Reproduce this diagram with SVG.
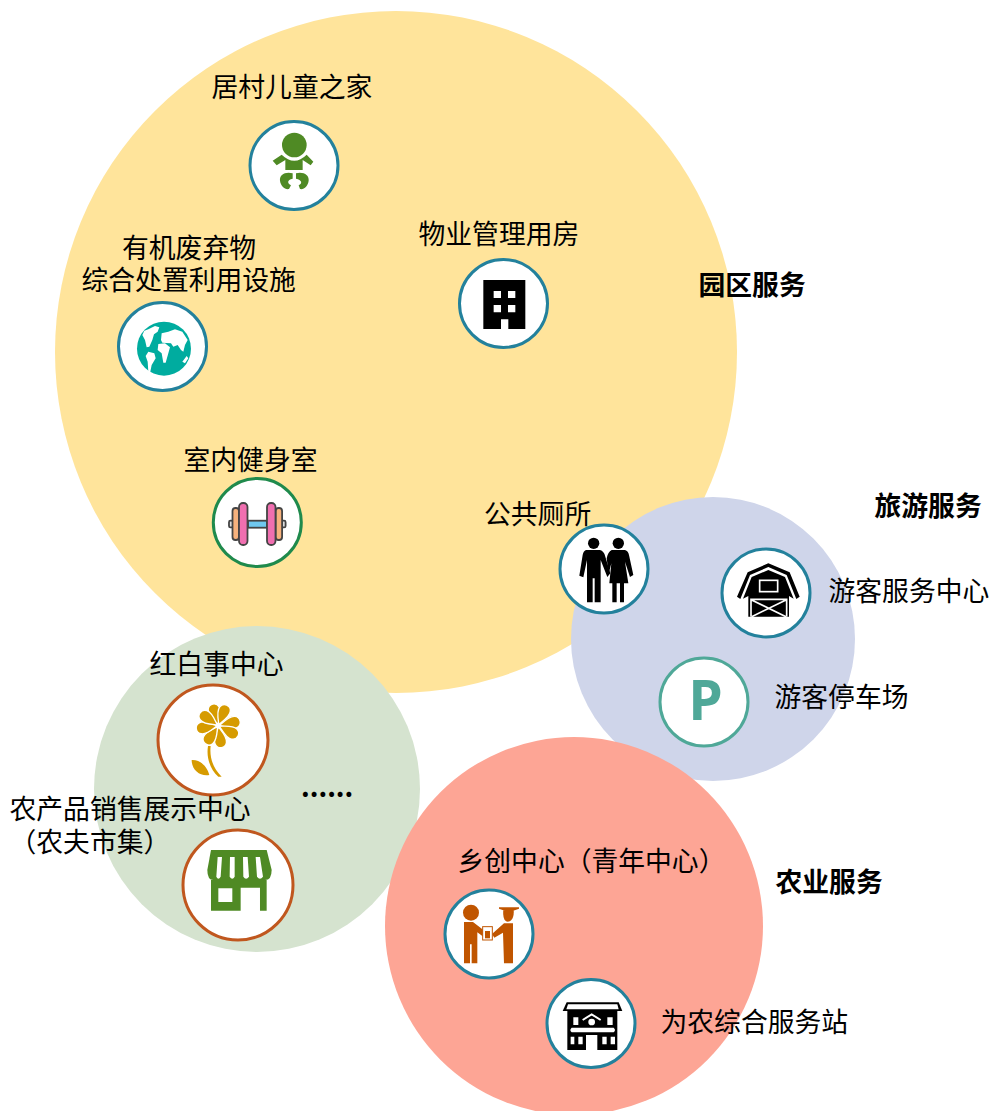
<svg xmlns="http://www.w3.org/2000/svg" width="992" height="1111" viewBox="0 0 992 1111">
<style>
text{font-family:"Noto Sans CJK SC","Noto Sans",sans-serif;font-size:26.8px;fill:#000}
.b{font-weight:700}
.r{fill:#fff;stroke-width:3}
.t{stroke:#23819c}
.o{stroke:#c0571e}
</style>
<defs>
<path id="petal" d="M0,-4C-9,-20-22,-38-17,-54C-12,-71 12,-71 17,-54C22,-38 9,-20 0,-4Z" fill="#d69b00" stroke="#fff" stroke-width="4"/>
</defs>
<g id="zones">
<circle id="zone-park" cx="396" cy="352" r="341" fill="#ffe49b"/>
<circle id="zone-tour" cx="713" cy="639" r="142" fill="#cfd5ea"/>
<circle id="zone-green" cx="257" cy="789" r="163" fill="#d5e3cf"/>
<circle id="zone-agri" cx="574" cy="926" r="189" fill="#fda595"/>
</g>
<g id="zone-labels">
<text class="b" x="698.500" y="294.700">园区服务</text>
<text class="b" x="874.500" y="516">旅游服务</text>
<text class="b" x="775.500" y="891.700">农业服务</text>
<text class="b" x="301" y="797">......</text>
</g>
<g id="node-baby">
<circle class="r t" cx="294" cy="165.500" r="44"/>
<text x="211.500" y="96.700">居村儿童之家</text>
<g transform="translate(240 110) scale(.3333)" fill="#4f8a24">
<circle cx="163" cy="105" r="37"/>
<path d="M125,134Q163,170 200,134L220,155L212,166L188,150L188,180L136,180L136,150L110,166L98,152Z"/>
<path d="M158,190C135,184 118,195 120,212C122,228 135,240 147,237L153,226C142,220 140,210 158,206Z"/>
<path d="M168,190C190,184 208,195 206,212C204,228 192,240 180,237L176,226C188,220 186,210 168,206Z"/>
</g>
</g>
<g id="node-office">
<circle class="r t" cx="503.500" cy="303.500" r="44"/>
<text x="418.500" y="243.700">物业管理用房</text>
<g transform="translate(450 255) scale(.3333)">
<path d="M100,75H226V222H175V193H153V222H100Z"/>
<path fill="#fff" d="M131,108H153V129H131ZM174,108H196V129H174ZM131,150H153V172H131ZM174,150H196V172H174Z"/>
</g>
</g>
<g id="node-globe">
<circle class="r t" cx="162.500" cy="346.500" r="44"/>
<text x="122" y="257.700">有机废弃物</text>
<text x="81.500" y="289.700">综合处置利用设施</text>
<g transform="translate(105 290) scale(.3333)">
<circle cx="177" cy="176" r="81" fill="#00ac9f"/>
<path fill="#fff" d="M130,118L150,108L163,112L158,125L147,133L142,150L133,170L125,172L120,150L112,135L118,122ZM130,185L148,190L152,205L140,225L135,250L130,245L128,215L122,198ZM168,150L170,130L190,125L210,118L232,125L248,150L240,165L235,185L228,180L218,165L205,170L198,160L172,158ZM160,162L180,160L195,172L190,190L182,218L175,218L170,190L158,180ZM232,215L245,198L250,205L240,220Z"/>
</g>
</g>
<g id="node-gym">
<circle cx="257.300" cy="522.500" r="44" fill="#fff" stroke="#1f8a4c" stroke-width="3"/>
<text x="183.500" y="469.700">室内健身室</text>
<g stroke="#444" stroke-width="1.800">
<rect x="248" y="520.700" width="19" height="7" fill="#6fc8ef"/>
<rect x="229" y="520.700" width="4" height="6.700" rx="1.500" fill="#ddd"/>
<rect x="281.600" y="520.700" width="4" height="6.700" rx="1.500" fill="#ddd"/>
<rect x="232.500" y="508" width="6.500" height="32" rx="3" fill="#f7b27d"/>
<rect x="275.600" y="508" width="6.500" height="32" rx="3" fill="#f7b27d"/>
<rect x="239" y="503" width="8.500" height="42" rx="4" fill="#f06fb0"/>
<rect x="267" y="503" width="8.500" height="42" rx="4" fill="#f06fb0"/>
</g>
</g>
<g id="node-toilet">
<circle class="r t" cx="604" cy="569" r="44"/>
<text x="484" y="524">公共厕所</text>
<g transform="translate(550 515) scale(.3333)">
<circle cx="131" cy="85" r="17"/>
<circle cx="205" cy="85" r="17"/>
<path d="M108,105H150Q162,108 166,125L181,175L172,186L152,135V262H134V190H128V262H111V135L100,187L88,182L98,120Q100,108 108,105Z"/>
<path d="M185,105H225Q235,108 237,120L250,180L240,186L225,140L235,205H222V262H210V205H200V262H187V205H178L184,145L176,176L170,130Q174,110 185,105Z"/>
</g>
</g>
<g id="node-visitor">
<circle class="r t" cx="766" cy="593" r="44"/>
<text x="828.500" y="600.700">游客服务中心</text>
<g transform="translate(715 540) scale(.3333)">
<path d="M160,70L224,97L254,170L244,177L215,105L160,81L105,105L76,177L66,170L98,97Z"/>
<path d="M160,90L210,111L236,176L222,168V230H100V168L84,176L110,111Z"/>
<rect x="134" y="121" width="54" height="34" fill="none" stroke="#fff" stroke-width="5"/>
<path d="M108,230V178H215V230M110,180L213,230M213,180L110,230" fill="none" stroke="#fff" stroke-width="5"/>
</g>
</g>
<g id="node-parking">
<circle cx="704" cy="702" r="44" fill="#fff" stroke="#4fa898" stroke-width="3"/>
<text x="774.500" y="706.700">游客停车场</text>
<text x="705.500" y="720" text-anchor="middle" style="font-family:'Open Sans',sans-serif;font-size:55px;font-weight:700;fill:#4fa898">P</text>
</g>
<g id="node-flower">
<circle cx="213" cy="740" r="55" fill="#fff" stroke="#c0571e" stroke-width="3"/>
<text x="149.500" y="673.700">红白事中心</text>
<g transform="translate(150 680) scale(.3333)">
<g transform="translate(205 137)">
<use href="#petal" transform="rotate(-15)"/>
<use href="#petal" transform="rotate(22)"/>
<use href="#petal" transform="rotate(78)"/>
<use href="#petal" transform="rotate(118)"/>
<use href="#petal" transform="rotate(172)"/>
<use href="#petal" transform="rotate(215)"/>
<use href="#petal" transform="rotate(262)"/>
<use href="#petal" transform="rotate(305)"/>
</g>
<path fill="#d69b00" d="M174,198L182,198C178,235 190,265 215,290L205,290C182,270 168,235 174,198ZM125,240C150,238 172,260 178,285C150,290 125,270 125,240Z"/>
</g>
</g>
<g id="node-market">
<circle cx="238" cy="885" r="55" fill="#fff" stroke="#c0571e" stroke-width="3"/>
<text x="9.500" y="818.700">农产品销售展示中心</text>
<text x="9.500" y="851.700">（农夫市集）</text>
<g transform="translate(175 825) scale(.3333)" fill="#4f8a24">
<path d="M108,75H275L290,135Q290,165 270,165H115Q97,165 97,135Z"/>
<path fill="#fff" d="M128,96H141L137,155Q130,168 124,155ZM165,96H179L179,155Q172,168 164,155ZM204,96H218L222,155Q213,168 205,155ZM242,96H255L264,155Q255,168 246,155Z"/>
<path fill-rule="evenodd" d="M108,165H275V257H255V188H197V257H108ZM130,190V231H172V190Z"/>
</g>
</g>
<g id="node-youth">
<circle class="r t" cx="489" cy="934" r="44"/>
<text x="457.500" y="870.700">乡创中心（青年中心）</text>
<g transform="translate(435 885) scale(.3333)" fill="#c05500">
<circle cx="108" cy="83" r="24"/>
<path d="M87,111H114L153,141L146,156L127,142V235H110V178H105V235H87Z"/>
<path d="M192,67H252V71L222,82L192,71Z"/>
<path d="M205,76H236C238,100 228,110 218,110C208,110 203,95 205,76Z"/>
<path d="M234,115H207L171,147L178,158L204,143L207,235H234Z"/>
<rect x="143" y="125" width="29" height="40" fill="#fff" stroke="#c05500" stroke-width="3"/>
<path d="M150,138H165V160H150Z"/>
</g>
</g>
<g id="node-station">
<circle class="r t" cx="591" cy="1023.500" r="44"/>
<text x="660.500" y="1031.700">为农综合服务站</text>
<g transform="translate(540 975) scale(.3333)">
<path d="M80,82H236L247,108H68Z"/>
<path fill="#fff" d="M84,88H232L236,103H79Z"/>
<path d="M82,107H232V225H172V180H138V225H82Z"/>
<path fill="#fff" d="M100,127H115V150H100ZM202,127H218V150H202ZM95,158H221Q229,165 221,172H95Q87,165 95,158ZM92,185H103V208H92ZM115,185H128V208H115ZM187,185H200V208H187ZM212,185H225V208H212Z"/>
<path fill="none" stroke="#fff" stroke-width="6" d="M128,135L155,118L182,135"/>
<circle cx="155" cy="141" r="10" fill="#fff"/>
</g>
</g>
</svg>
